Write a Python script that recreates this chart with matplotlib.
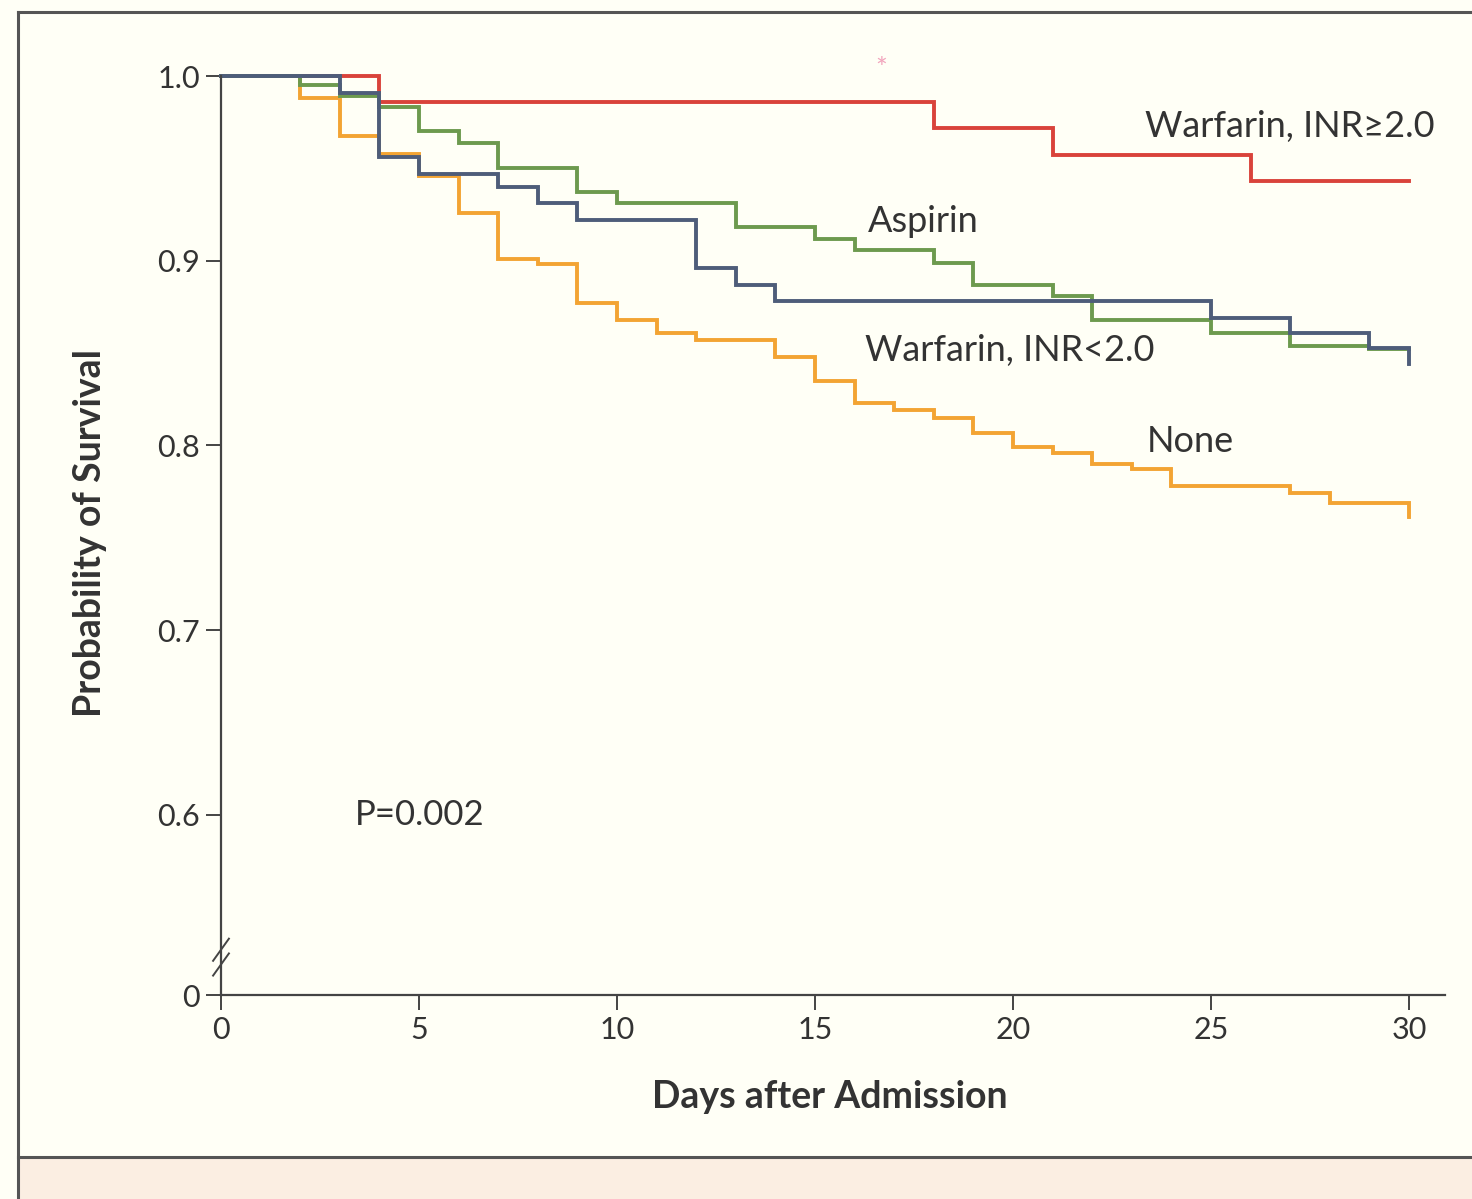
import matplotlib
matplotlib.use("Agg")
import matplotlib.pyplot as plt
from matplotlib.lines import Line2D
from matplotlib.patches import Rectangle

# ---------------------------------------------------------------- data
# Kaplan-Meier step curves (day of drop, survival after drop)
red_t = [0, 4, 18, 21, 26, 30]
red_s = [1.0, 0.986, 0.972, 0.957, 0.943, 0.943]

none_t = [0, 2, 3, 4, 5, 6, 7, 8, 9, 10, 11, 12, 14, 15, 16, 17, 18, 19, 20,
          21, 22, 23, 24, 27, 28, 30]
none_s = [1.0, 0.988, 0.9675, 0.958, 0.946, 0.926, 0.901, 0.898, 0.877, 0.868,
          0.861, 0.857, 0.848, 0.835, 0.823, 0.819, 0.815, 0.807, 0.799,
          0.796, 0.790, 0.787, 0.778, 0.774, 0.769, 0.761]

asp_t = [0, 2, 3, 4, 5, 6, 7, 9, 10, 13, 15, 16, 18, 19, 21, 22, 25, 27, 29, 30]
asp_s = [1.0, 0.995, 0.989, 0.983, 0.970, 0.964, 0.950, 0.937, 0.931, 0.918,
         0.912, 0.906, 0.899, 0.887, 0.881, 0.868, 0.861, 0.854, 0.852, 0.852]

low_t = [0, 3, 4, 5, 7, 8, 9, 12, 13, 14, 25, 27, 29, 30]
low_s = [1.0, 0.991, 0.956, 0.947, 0.940, 0.931, 0.922, 0.896, 0.887, 0.878,
         0.869, 0.861, 0.853, 0.844]

x_ticks = [0, 5, 10, 15, 20, 25, 30]
y_ticks = [0.6, 0.7, 0.8, 0.9, 1.0]
y_tick_labels = ["0.6", "0.7", "0.8", "0.9", "1.0"]
Y_ZERO = 0.5025  # where the broken axis shows "0"

RED, ORANGE, GREEN, BLUE = "#D9433B", "#F3A433", "#6D9A4E", "#4E5D7A"
INK = "#333333"
BG = "#FFFFF6"
FONT = ["Lato", "DejaVu Sans"]

plt.rcParams["font.family"] = FONT

W, H = 1472, 1199
fig = plt.figure(figsize=(W / 100, H / 100), dpi=100, facecolor=BG)


def px(x, y):
    return x / W, 1 - y / H


# frame around the panel
fig.add_artist(Rectangle(px(18, 1199), 1, (1199 - 1157) / H, transform=fig.transFigure,
                         facecolor="#FBEEE2", edgecolor="none", zorder=0))
for xs, ys in (((18, 18), (12, 1199)), ((18, 1472), (12, 12)), ((18, 1472), (1157, 1157))):
    fig.add_artist(Line2D([x / W for x in xs], [1 - y / H for y in ys],
                          transform=fig.transFigure, color="#555555", lw=2.2))

# axes: x 0 -> 221px, 30 -> 1409px ; y 1.0 -> 76px, "0" -> 995px
x_right = 30 + (1445 - 1409) / 39.6
ax = fig.add_axes([221 / W, (H - 995) / H, (1445 - 221) / W, (995 - 76) / H])
ax.set_facecolor(BG)
ax.set_xlim(0, x_right)
ax.set_ylim(Y_ZERO, 1.0)

for t, s, c in ((red_t, red_s, RED), (none_t, none_s, ORANGE),
                (asp_t, asp_s, GREEN), (low_t, low_s, BLUE)):
    ax.step(t, s, where="post", color=c, lw=2.8, clip_on=False, solid_joinstyle="miter")

ax.spines["top"].set_visible(False)
ax.spines["right"].set_visible(False)
for sp in ("left", "bottom"):
    ax.spines[sp].set_color("#444444")
    ax.spines[sp].set_linewidth(1.6)

ax.set_xticks(x_ticks)
ax.set_yticks([Y_ZERO] + y_ticks)
ax.set_yticklabels(["0"] + y_tick_labels)
ax.tick_params(axis="both", direction="out", length=11, width=1.4, color="#444444",
               labelsize=22, labelcolor=INK)
ax.tick_params(axis="y", pad=4)
ax.tick_params(axis="x", pad=4)

# axis break marks
for dy in (0.0, 0.008):
    ax.plot([-0.2, 0.2], [0.513 + dy, 0.525 + dy], color="#444444", lw=1.4, clip_on=False)

# curve labels
ax.text(23.33, 0.9724, "Warfarin, INR\u22652.0", fontsize=26, color=INK, va="center")
ax.text(16.34, 0.921, "Aspirin", fontsize=26, color=INK, va="center")
ax.text(16.26, 0.8516, "Warfarin, INR<2.0", fontsize=26, color=INK, va="center")
ax.text(23.38, 0.8024, "None", fontsize=26, color=INK, va="center")
ax.text(3.38, 0.600, "P=0.002", fontsize=25, color=INK, va="center")

fig.text(*px(90, 533), "Probability of Survival", rotation=90, fontsize=27,
         fontweight="bold", color=INK, ha="center", va="center")
fig.text(*px(830, 1097), "Days after Admission", fontsize=27,
         fontweight="bold", color=INK, ha="center", va="center")
fig.text(*px(881, 70), "*", fontsize=20, color="#F2A6BD", ha="center", va="center")

fig.savefig("out.png", dpi=100, facecolor=BG)
